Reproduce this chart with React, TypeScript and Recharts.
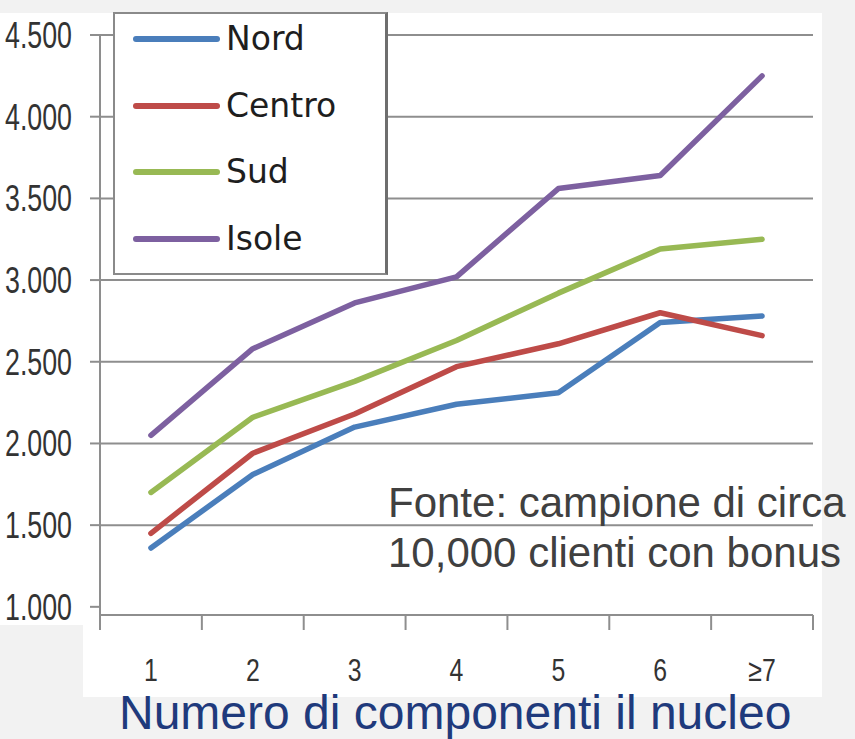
import React from 'react';
import { LineChart, Line, XAxis, YAxis, CartesianGrid, Legend } from 'recharts';

const categories = ['1', '2', '3', '4', '5', '6', '≥7'];
const nord = [1360, 1810, 2100, 2240, 2310, 2740, 2780];
const centro = [1450, 1940, 2180, 2470, 2610, 2800, 2660];
const sud = [1700, 2160, 2380, 2630, 2920, 3190, 3250];
const isole = [2050, 2580, 2860, 3020, 3560, 3640, 4250];
const yTicks = [1000, 1500, 2000, 2500, 3000, 3500, 4000, 4500];
const gridValues = [1500, 2000, 2500, 3000, 3500, 4000, 4500];

const seriesNames = ['Nord', 'Centro', 'Sud', 'Isole'];
const colors = ['#4a7ebb', '#be4b48', '#98b954', '#7d60a0'];

const data = categories.map((c, i) => ({
  name: c,
  Nord: nord[i],
  Centro: centro[i],
  Sud: sud[i],
  Isole: isole[i],
}));

const sans = "'Liberation Sans', Arial, sans-serif";
const axisGrey = '#8e8e8e';

// 4500 -> "4.500"
const fmt = (v: number) => {
  const s = String(v);
  return s.length > 3 ? s.slice(0, -3) + '.' + s.slice(-3) : s;
};

// the tick font in the picture is a narrow one, squeeze the glyphs to fit
const YTick = (props: any) => {
  const { x, y, payload } = props;
  return (
    <text x={x} y={y} dy={13} textAnchor="end" fontFamily={sans} fontSize={36}
      textLength={67} lengthAdjust="spacingAndGlyphs" fill="#333">
      {fmt(payload.value)}
    </text>
  );
};

// labels in the middle of the band, tick marks on the band edges
const XTick = (props: any) => {
  const { x, y, payload, index, visibleTicksCount } = props;
  const half = payload.offset || 51;
  const by = y + 66;
  return (
    <g>
      <line x1={x - half} x2={x - half} y1={y} y2={y + 15} stroke={axisGrey} strokeWidth={2} />
      {index === visibleTicksCount - 1 && (
        <line x1={x + half} x2={x + half} y1={y} y2={y + 15} stroke={axisGrey} strokeWidth={2} />
      )}
      <text x={x} y={by} textAnchor="middle" fontFamily={sans} fontSize={31} fill="#333"
        transform={`translate(${x} ${by}) scale(0.8 1) translate(${-x} ${-by})`}>
        {payload.value}
      </text>
    </g>
  );
};

const LegendBox = () => (
  <div style={{
    width: 275, height: 263, boxSizing: 'border-box', background: '#fff',
    border: '2px solid #8a8a8a', borderRight: '3px solid #6e6e6e', position: 'relative',
  }}>
    {seriesNames.map((n, i) => (
      <div key={n} style={{
        position: 'absolute', left: 18, top: 5 + i * 66.7, height: 40,
        display: 'flex', alignItems: 'center',
      }}>
        <div style={{ width: 87, height: 6, borderRadius: 3, background: colors[i] }} />
        <span style={{
          marginLeft: 6, fontFamily: "'DejaVu Sans', sans-serif", fontSize: 33,
          color: '#1e1e1e', lineHeight: '40px',
        }}>{n}</span>
      </div>
    ))}
  </div>
);

export default function App() {
  return (
    <div style={{ position: 'absolute', left: 0, top: 0, width: 855, height: 739, background: '#f2f2f2', overflow: 'hidden' }}>
      <div style={{ position: 'absolute', left: 0, top: 13, width: 822, height: 612, background: '#fff' }} />
      <div style={{ position: 'absolute', left: 83, top: 625, width: 739, height: 72, background: '#fff' }} />
      <div style={{ position: 'absolute', left: 0, top: 0 }}>
        <LineChart width={855} height={739} data={data}
          margin={{ top: 35, right: 42, bottom: 64, left: 0 }}>
          <CartesianGrid horizontal vertical={false} horizontalValues={gridValues}
            stroke={axisGrey} strokeWidth={2} />
          <XAxis dataKey="name" scale="band" height={60} tickSize={0} tickMargin={0}
            axisLine={{ stroke: axisGrey, strokeWidth: 2 }} tickLine={false}
            tick={<XTick />} interval={0} />
          <YAxis width={100} domain={[950, 4500]} ticks={yTicks} allowDataOverflow
            axisLine={{ stroke: axisGrey, strokeWidth: 2 }}
            tickLine={{ stroke: axisGrey, strokeWidth: 2 }} tickSize={10} tickMargin={18}
            tick={<YTick />} />
          <Legend layout="vertical" align="center" verticalAlign="middle"
            content={<LegendBox />}
            wrapperStyle={{ position: 'absolute', left: 113, top: 12, width: 275, height: 263 }} />
          {seriesNames.map((n, i) => (
            <Line key={n} type="linear" dataKey={n} stroke={colors[i]} strokeWidth={5.5}
              strokeLinejoin="round" strokeLinecap="round" dot={false} activeDot={false}
              isAnimationActive={false} />
          ))}
        </LineChart>
      </div>
      <div style={{
        position: 'absolute', left: 388, top: 478, fontFamily: sans,
        fontSize: 42, lineHeight: '50px', color: '#404040', whiteSpace: 'nowrap',
      }}>
        Fonte: campione di circa<br />10,000 clienti con bonus
      </div>
      <div style={{
        position: 'absolute', left: 119, top: 689, fontFamily: sans,
        fontSize: 48, lineHeight: '48px', color: '#1f3a7c', whiteSpace: 'nowrap',
      }}>
        Numero di componenti il nucleo
      </div>
    </div>
  );
}
